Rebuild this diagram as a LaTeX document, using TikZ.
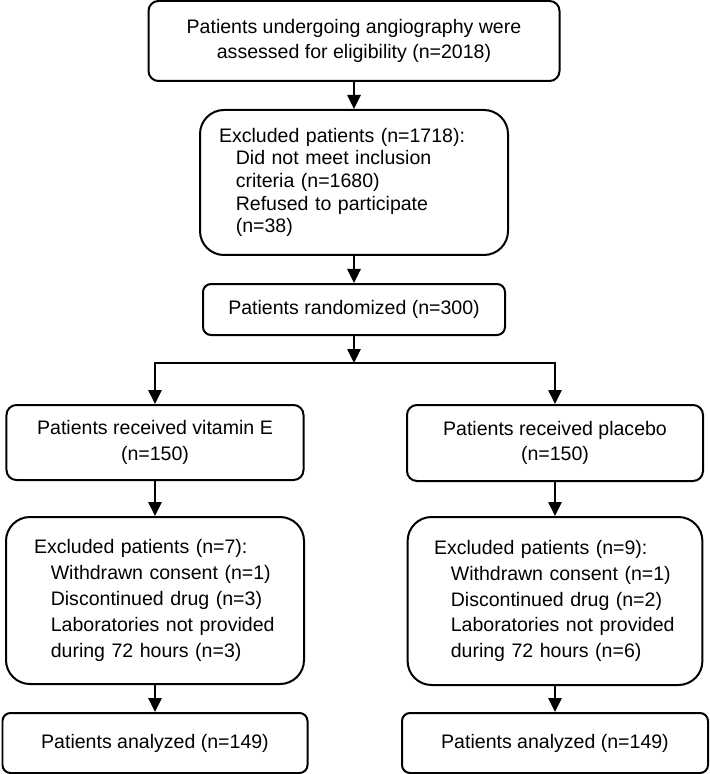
\documentclass[tikz,border=0pt]{standalone}
\usepackage{fontspec}
\setmainfont{Liberation Sans}
\usepackage{tikz}
\usetikzlibrary{arrows.meta, positioning}
\tikzset{>={Triangle[length=3.5mm, width=3.3mm]}}
\tikzset{box/.style={draw, line width=0.5mm, align=center, inner sep=0pt, font=\fontsize{13.9}{18.4}\selectfont}}
\tikzset{flow/.style={->, line width=0.5mm}}
\newcommand{\ind}{\hspace*{4.2mm}}
\hyphenpenalty=10000

\begin{document}
\begin{tikzpicture}
\useasboundingbox (0,0) rectangle (17.725,-19.35);

\node[box, rounded corners=2.5mm, minimum width=10.275cm, minimum height=2cm, font=\fontsize{13.9}{17.8}\selectfont] (elig) at (8.85,-1.025) {Patients undergoing angiography were\\assessed for eligibility (n=2018)};
\node[box, rounded corners=6mm, align=left, text width=6.75cm, inner xsep=4.75mm, minimum height=3.625cm, font=\fontsize{13.9}{16.1}\selectfont] (excl) at (8.85,-4.5625) {Excluded patients (n=1718):\\ \ind Did not meet inclusion\\ \ind criteria (n=1680)\\ \ind Refused to participate\\ \ind (n=38)};
\node[box, rounded corners=2mm, minimum width=7.55cm, minimum height=1.275cm] (rand) at (8.85,-7.7375) {Patients randomized (n=300)};

\node[box, rounded corners=2.5mm, minimum width=7.425cm, minimum height=1.875cm] (vitE) at (3.875,-11.0625) {Patients received vitamin E\\(n=150)};
\node[box, rounded corners=2.5mm, minimum width=7.4cm, minimum height=1.9cm] (plac) at (13.875,-11.075) {Patients received placebo\\(n=150)};

\node[box, rounded corners=6mm, align=left, text width=6.05cm, inner xsep=7mm, minimum height=4.175cm] (exclE) at (3.875,-15.0125) {Excluded patients (n=7):\\ \ind Withdrawn consent (n=1)\\ \ind Discontinued drug (n=3)\\ \ind Laboratories not provided\\ \ind during 72 hours (n=3)};
\node[box, rounded corners=6mm, align=left, text width=6.05cm, inner xsep=6.6mm, minimum height=4.2cm] (exclP) at (13.875,-15.025) {Excluded patients (n=9):\\ \ind Withdrawn consent (n=1)\\ \ind Discontinued drug (n=2)\\ \ind Laboratories not provided\\ \ind during 72 hours (n=6)};

\node[box, rounded corners=2mm, minimum width=7.625cm, minimum height=1.5cm] (anaE) at (3.875,-18.575) {Patients analyzed (n=149)};
\node[box, rounded corners=2mm, minimum width=7.65cm, minimum height=1.5cm] (anaP) at (13.875,-18.575) {Patients analyzed (n=149)};

\coordinate (split) at (8.85,-9.075);
\draw[flow] (elig) -- (excl);
\draw[flow] (excl) -- (rand);
\draw[flow] (rand) -- (split);
\draw[flow] (split) -| (vitE);
\draw[flow] (split) -| (plac);
\draw[flow] (vitE) -- (exclE);
\draw[flow] (exclE) -- (anaE);
\draw[flow] (plac) -- (exclP);
\draw[flow] (exclP) -- (anaP);
\end{tikzpicture}
\end{document}
